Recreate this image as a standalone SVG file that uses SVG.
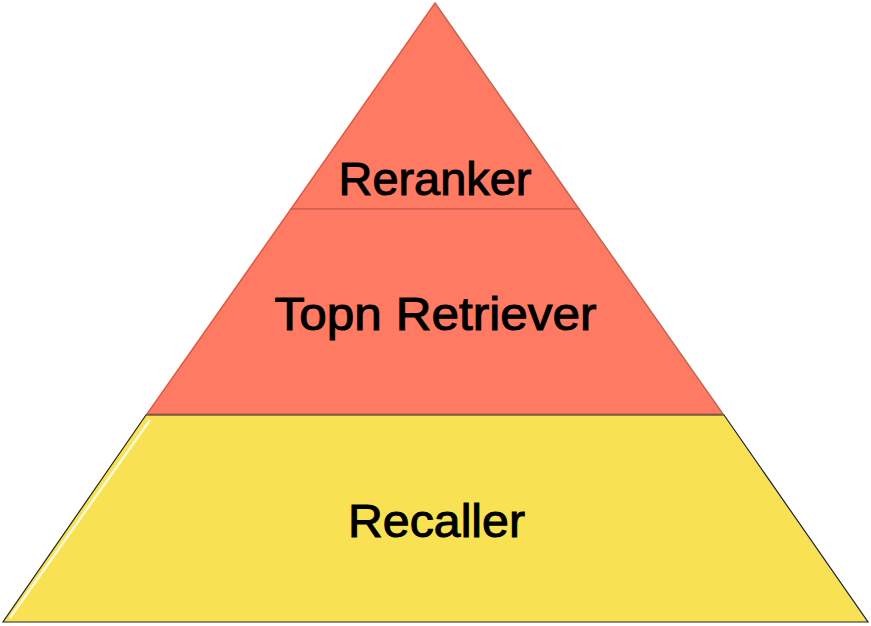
<svg xmlns="http://www.w3.org/2000/svg" width="871" height="626" viewBox="0 0 871 626">
<style>
.lbl{font-family:"Liberation Sans",Arial,sans-serif;font-size:46px;fill:#000;stroke:#000;stroke-width:1px;text-anchor:middle}
.red{fill:#FF7A63;stroke:#D0604C;stroke-width:1.5}
.yel{fill:#F8E254;stroke:#222;stroke-width:1.2}
</style>
<rect width="871" height="626" fill="#fff"/>
<g id="top-section">
<polygon class="red" points="435,3 579,209 291,209"/>
</g>
<g id="middle-section">
<polygon class="red" points="291,209 579,209 723,414 147,414"/>
</g>
<g id="bottom-section">
<polygon class="yel" points="146,415 724,415 868,622 3,622"/>
<line x1="150" y1="420" x2="10" y2="618" stroke="#fff" stroke-width="2.5" opacity="0.8"/>
</g>
<g id="labels">
<text class="lbl" x="435" y="195" textLength="193" lengthAdjust="spacingAndGlyphs">Reranker</text>
<text class="lbl" x="435.5" y="330" textLength="322" lengthAdjust="spacingAndGlyphs">Topn Retriever</text>
<text class="lbl" x="436.5" y="537" textLength="177" lengthAdjust="spacingAndGlyphs">Recaller</text>
</g>
</svg>
